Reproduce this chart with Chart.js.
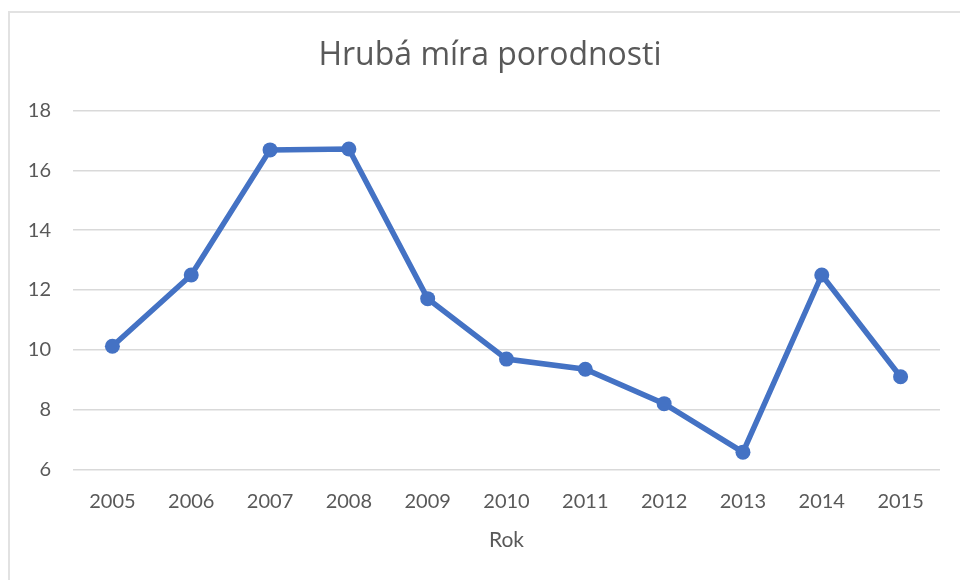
<!DOCTYPE html>
<html>
<head>
<meta charset="utf-8">
<script src="https://cdn.jsdelivr.net/npm/chart.js@4"></script>
<style>
  body { margin: 0; background: #fff; overflow: hidden; }
  #frame { position: absolute; left: 8px; top: 11px; width: 1000px; height: 1000px; border: 2px solid #e2e2e2; }
  #wrap { position: absolute; left: 10px; top: 0; width: 960px; height: 580px; }
</style>
</head>
<body>
<div id="frame"></div>
<div id="wrap"><canvas id="myCanvas" width="960" height="580"></canvas></div>
<script>
const labels = ['2005', '2006', '2007', '2008', '2009', '2010', '2011', '2012', '2013', '2014', '2015'];
const birthRate = [10.12, 12.5, 16.68, 16.71, 11.71, 9.69, 9.35, 8.2, 6.58, 12.5, 9.1];
const yTicks = [6, 8, 10, 12, 14, 16, 18];

const ctx = document.getElementById('myCanvas').getContext('2d');

// centre the title on the whole canvas, not on the padded box
const titleSpan = {
    id: 'titleSpan',
    afterLayout(chart) {
        const t = chart.titleBlock;
        if (t) { t.left = 0; t.right = chart.width; }
    }
};

const myChart = new Chart(ctx, {
    type: 'line',
    data: {
        labels: labels,
        datasets: [{
            label: 'Hrubá míra porodnosti',
            data: birthRate,
            borderColor: '#4472C4',
            backgroundColor: '#4472C4',
            borderWidth: 5.5,
            pointRadius: 7.5,
            pointBorderWidth: 0,
            pointBackgroundColor: '#4472C4',
            fill: false,
            tension: 0,
        }]
    },
    options: {
        responsive: false,
        animation: false,
        layout: {
            padding: { left: 0, right: 30, top: 0, bottom: 0 }
        },
        plugins: {
            legend: { display: false },
            tooltip: { enabled: false },
            title: {
                display: true,
                text: 'Hrubá míra porodnosti',
                color: '#595959',
                font: { family: 'Open Sans', size: 32, weight: 'normal' },
                padding: { top: 37, bottom: 35 }
            }
        },
        scales: {
            x: {
                offset: true,
                grid: { display: false },
                border: { display: false },
                ticks: {
                    color: '#595959',
                    font: { family: 'Lato', size: 20 },
                    padding: 12,
                    maxRotation: 0
                },
                title: {
                    display: true,
                    text: 'Rok',
                    color: '#595959',
                    font: { family: 'Lato', size: 21 },
                    padding: { top: 0, bottom: 27 }
                },
                afterFit: function (scale) { scale.height = 110.5; }
            },
            y: {
                min: 6,
                max: 18,
                afterBuildTicks: function (scale) {
                    scale.ticks = yTicks.map(v => ({ value: v }));
                },
                grid: { color: '#d9d9d9', lineWidth: 1.5, drawTicks: false },
                border: { display: false },
                ticks: {
                    color: '#595959',
                    font: { family: 'Lato', size: 20 },
                    padding: 22
                },
                afterFit: function (scale) { scale.width = 63; }
            }
        }
    },
    plugins: [titleSpan]
});
</script>
</body>
</html>
